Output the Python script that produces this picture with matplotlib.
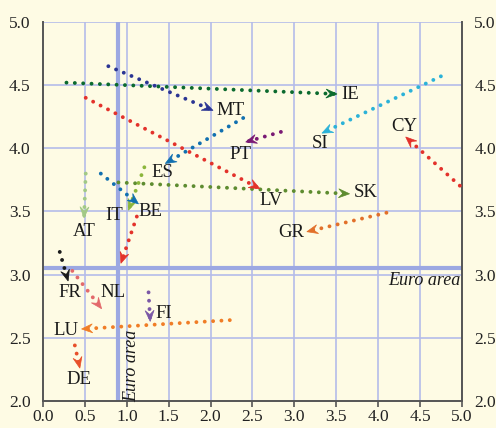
import matplotlib
matplotlib.use("Agg")
import matplotlib.pyplot as plt
from matplotlib.patches import Polygon
from matplotlib.transforms import IdentityTransform
import numpy as np

# ---- data ----
countries = ["IE", "MT", "LV", "ES", "PT", "SI", "CY", "SK", "AT", "IT", "BE",
             "", "GR", "FR", "NL", "FI", "LU", "DE"]
start_x = [0.28, 0.78, 0.51, 2.39, 2.84, 4.75, 5.05, 0.90, 0.51, 1.21, 0.69,
           1.12, 4.10, 0.20, 0.35, 1.26, 2.23, 0.38]
start_y = [4.52, 4.65, 4.40, 4.24, 4.13, 4.57, 3.66, 3.73, 3.80, 3.85, 3.80,
           3.46, 3.49, 3.18, 3.03, 2.86, 2.64, 2.44]
end_x = [3.51, 2.03, 2.59, 1.46, 2.42, 3.33, 4.33, 3.66, 0.49, 1.02, 1.14,
         0.93, 3.15, 0.30, 0.70, 1.28, 0.46, 0.44]
end_y = [4.43, 4.30, 3.68, 3.88, 4.05, 4.12, 4.09, 3.64, 3.45, 3.51, 3.56,
         3.09, 3.34, 2.95, 2.73, 2.63, 2.57, 2.26]
colors = ["#0b6a2e", "#2b3593", "#e3322b", "#1170b0", "#7a1a74", "#2bb2d8",
          "#e3322b", "#5e8c30", "#a2c985", "#8cb63c", "#1170b0", "#e3322b",
          "#e2702a", "#1a1a1a", "#e3696b", "#7b58a6", "#f07d26", "#e8502a"]
label_x = [3.56, 2.07, 2.72, 1.42, 2.36, 3.31, 4.31, 3.71, 0.49, 0.85, 1.28,
           0, 2.96, 0.32, 0.84, 1.44, 0.27, 0.43]
label_y = [4.43, 4.30, 3.59, 3.81, 3.95, 4.04, 4.17, 3.65, 3.34, 3.47, 3.50,
           0, 3.33, 2.86, 2.86, 2.69, 2.56, 2.17]
label_ha = ["left", "left", "center", "center", "center", "center", "center",
            "left", "center", "center", "center", "center", "center", "center",
            "center", "center", "center", "center"]

euro_x = 0.89
euro_y = 3.055
x_ticks = [0.0, 0.5, 1.0, 1.5, 2.0, 2.5, 3.0, 3.5, 4.0, 4.5, 5.0]
y_ticks = [2.0, 2.5, 3.0, 3.5, 4.0, 4.5, 5.0]

# ---- style ----
bg = "#fefbe4"
grid_c = "#b4bce9"
euro_c = "#9ca8e2"
spine_c = "#555555"
plt.rcParams["font.family"] = ["Liberation Serif", "DejaVu Serif"]

fig = plt.figure(figsize=(4.96, 4.28), dpi=100, facecolor=bg)
ax = fig.add_axes([0.0867, 0.0631, 0.8444, 0.8855])
ax.set_facecolor(bg)
ax.set_xlim(0, 5)
ax.set_ylim(2, 5)

for gx in x_ticks[1:]:
    ax.axvline(gx, color=grid_c, lw=1.2, zorder=1)
for gy in y_ticks[1:]:
    ax.axhline(gy, color=grid_c, lw=1.2, zorder=1)
ax.axvline(euro_x, color=euro_c, lw=3, zorder=1.5)
ax.axhline(euro_y, color=euro_c, lw=3, zorder=1.5)

ax.set_xticks(x_ticks)
ax.set_xticklabels([f"{v:.1f}" for v in x_ticks])
ax.set_yticks(y_ticks)
ax.set_yticklabels([f"{v:.1f}" for v in y_ticks])
ax.tick_params(axis="x", direction="out", length=4, width=1.2, color=spine_c,
               labelsize=12.5, pad=2, labelcolor="#222222")
ax.tick_params(axis="y", length=0, labelsize=12.5, pad=9, labelcolor="#222222",
               labelright=True, right=False)
for s in ["left", "right", "bottom"]:
    ax.spines[s].set_color(spine_c)
    ax.spines[s].set_linewidth(1.4)
ax.spines["top"].set_visible(False)

fig.canvas.draw()
L, W, N = 11.0, 9.0, 0.62  # head length, width, notch (pixels)
for i in range(len(countries)):
    c = colors[i]
    ax.plot([start_x[i], end_x[i]], [start_y[i], end_y[i]], color=c, lw=2.8,
            linestyle=(0, (0.01, 2.14)), dash_capstyle="round", zorder=3,
            clip_on=True)
    p0 = ax.transData.transform((start_x[i], start_y[i]))
    p1 = ax.transData.transform((end_x[i], end_y[i]))
    d = p1 - p0
    d = d / np.hypot(*d)
    n = np.array([-d[1], d[0]])
    verts = [p1,
             p1 - d * L + n * W / 2,
             p1 - d * L * N,
             p1 - d * L - n * W / 2]
    ax.add_patch(Polygon(verts, closed=True, facecolor=c, edgecolor=c, lw=0.5,
                         transform=IdentityTransform(), zorder=4))
    if countries[i]:
        ax.text(label_x[i], label_y[i], countries[i], fontsize=13.5,
                ha=label_ha[i], va="center", color="#1a1a1a", zorder=5)

ax.text(4.98, 2.95, "Euro area", fontsize=13, style="italic", ha="right",
        va="center", color="#1a1a1a", zorder=5)
ax.text(1.06, 2.28, "Euro area", fontsize=13, style="italic", ha="center",
        va="center", rotation=90, color="#1a1a1a", zorder=5)

fig.savefig("out.png", dpi=100, facecolor=bg)
